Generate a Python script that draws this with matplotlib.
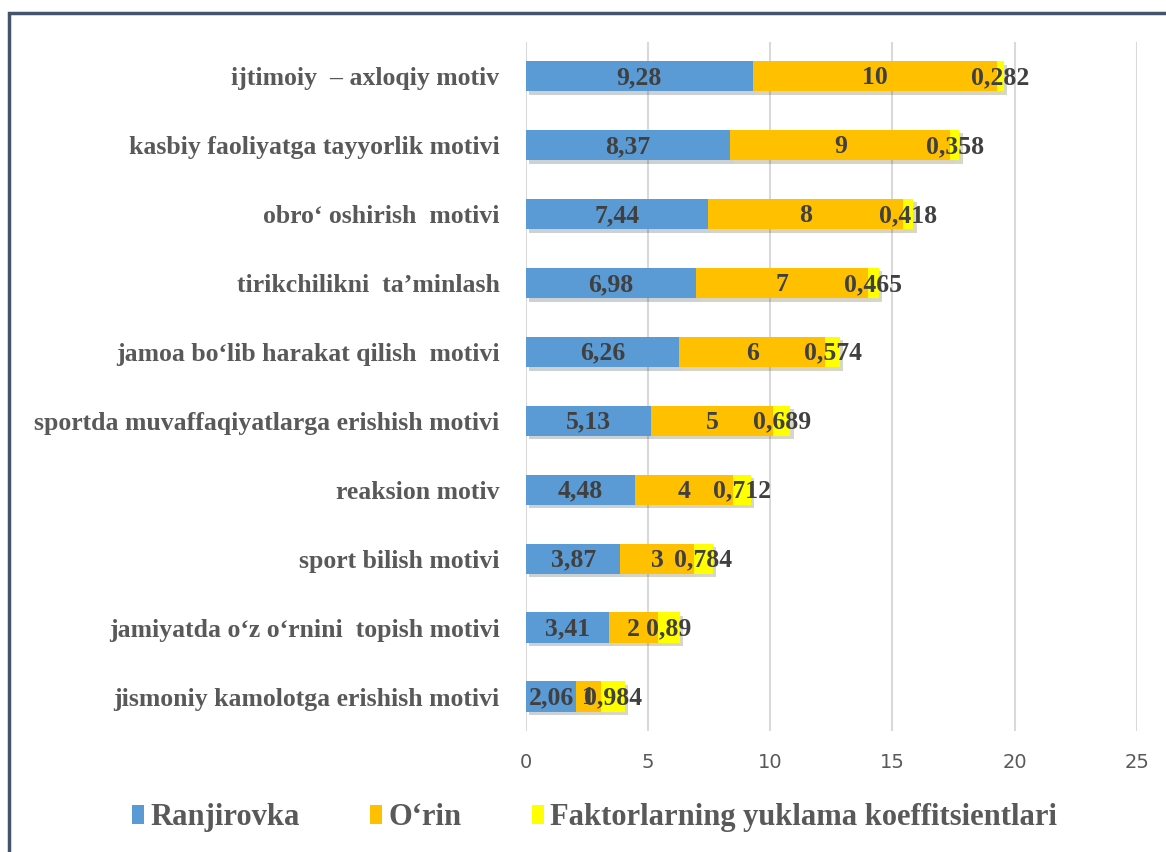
import matplotlib.pyplot as plt
import matplotlib.patheffects as pe
from matplotlib.patches import Rectangle
import numpy as np

# Data
categories = [
    "ijtimoiy  \u2013 axloqiy motiv",
    "kasbiy faoliyatga tayyorlik motivi",
    "obro\u2018 oshirish  motivi",
    "tirikchilikni  ta\u2019minlash",
    "jamoa bo\u2018lib harakat qilish  motivi",
    "sportda muvaffaqiyatlarga erishish motivi",
    "reaksion motiv",
    "sport bilish motivi",
    "jamiyatda o\u2018z o\u2018rnini  topish motivi",
    "jismoniy kamolotga erishish motivi",
]
ranjirovka = [9.28, 8.37, 7.44, 6.98, 6.26, 5.13, 4.48, 3.87, 3.41, 2.06]
orin = [10, 9, 8, 7, 6, 5, 4, 3, 2, 1]
koeff = [0.282, 0.358, 0.418, 0.465, 0.574, 0.689, 0.712, 0.784, 0.89, 0.984]

series_names = ["Ranjirovka", "O\u2018rin", "Faktorlarning yuklama koeffitsientlari"]
colors = ["#5B9BD5", "#FFC000", "#FFFF00"]

SERIF = ["Liberation Serif", "DejaVu Serif"]
TXT = "#404040"


def fmt(v):
    return ("%g" % v).replace(".", ",")


fig = plt.figure(figsize=(11.66, 8.52), dpi=100)
ax = fig.add_axes([0.451, 0.142, 0.524, 0.809])

# Outer chart border (left and top visible in reference)
fig.patches.append(Rectangle((9 / 1166, -0.05), 1.2, 1 - 13 / 852 + 0.05,
                             transform=fig.transFigure, fill=False,
                             edgecolor="#44546A", linewidth=2.5, zorder=0))

y = np.arange(len(categories))
left = np.zeros(len(categories))
all_bars = []

for vals, name, col in zip([ranjirovka, orin, koeff], series_names, colors):
    bars = ax.barh(y, vals, left=left, height=0.44, color=col, label=name,
                   zorder=3)
    all_bars.extend(bars)
    for yi, l, v in zip(y, left, vals):
        ax.text(l + v / 2, yi + 0.02, fmt(v), ha="center", va="center",
                fontsize=18.5, fontweight="bold", family=SERIF, color=TXT,
                zorder=5)
    left = left + np.array(vals)

ax.set_xlim(0, 25)
ax.set_ylim(len(categories) - 0.5, -0.5)
ax.set_xticks([0, 5, 10, 15, 20, 25])
ax.set_yticks(y)
ax.set_yticklabels(categories, fontsize=18.5, fontweight="bold",
                   family=SERIF, color="#595959")
ax.tick_params(axis="y", length=0, pad=19)
ax.tick_params(axis="x", length=0, pad=16, labelsize=14, labelcolor="#595959")
ax.grid(axis="x", color="#D9D9D9", linewidth=1.5, zorder=0)
for s in ax.spines.values():
    s.set_visible(False)

fig.legend(loc="center", bbox_to_anchor=(0.51, 0.04), ncol=3, frameon=False,
           prop={"family": SERIF, "weight": "bold", "size": 22},
           handlelength=0.4, handleheight=0.6, handletextpad=0.2,
           columnspacing=2.3, labelcolor="#595959")

# soft drop shadow on bars only (added after legend so handles stay flat)
shadow = [pe.SimplePatchShadow(offset=(2.5, -2.5), alpha=0.22), pe.Normal()]
for b in all_bars:
    b.set_path_effects(shadow)

fig.savefig("out.png", dpi=100)
